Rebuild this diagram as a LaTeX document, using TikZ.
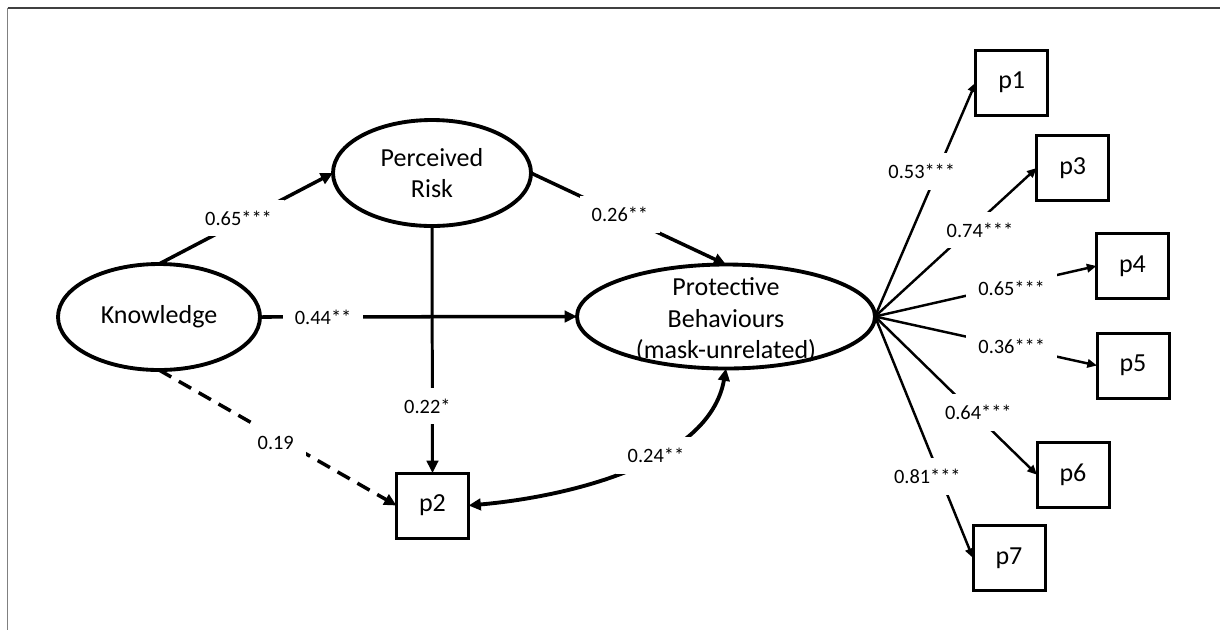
\documentclass[tikz,border=0pt]{standalone}
\usepackage{fontspec}
\setmainfont{Carlito}
\usetikzlibrary{arrows.meta,shapes.geometric}
\newlength\pxu \setlength\pxu{0.02cm}
\newcommand\nodefont{\fontsize{14.8}{18.1}\selectfont}
\newcommand\labfont{\fontsize{11.6}{14}\selectfont}
\begin{document}
\begin{tikzpicture}[x=0.02cm,y=-0.02cm,
  latent/.style={draw, ellipse, line width=2.2pt, inner sep=0pt, outer sep=0pt, font=\nodefont, align=center},
  obs/.style={draw, rectangle, line width=1.7pt, minimum width=72\pxu, minimum height=65\pxu, inner sep=0pt, outer sep=0pt, font=\nodefont},
  lbl/.style={fill=white, font=\labfont, inner xsep=12\pxu, inner ysep=11\pxu, text=black},
  mainarr/.style={line width=2pt, -{Triangle[length=7pt,width=6.5pt]}},
  fanarr/.style={line width=1.4pt, -{Triangle[length=5.5pt,width=4.8pt]}},
  dasharr/.style={line width=2pt, dash pattern=on 8pt off 5pt, -{Triangle[length=7pt,width=6.5pt]}},
  corr/.style={line width=2.2pt, {Triangle[length=7pt,width=6.5pt]}-{Triangle[length=7pt,width=6.5pt]}}
]
\useasboundingbox (0,0) rectangle (1220,630);
% frame
\draw[black!75, line width=0.6pt] (7.5,8) -- (1220,8);
\draw[black!50, line width=0.9pt] (7.5,8) -- (7.5,630);

% latent variables
\node[latent, minimum width=202\pxu, minimum height=106\pxu] (K) at (159,317) {Knowledge};
\node[latent, minimum width=198\pxu, minimum height=106\pxu] (PR) at (432,173) {Perceived\\Risk};
\node[latent, minimum width=298\pxu, minimum height=104\pxu] (PB) at (726,316.5) {};
\node[font=\nodefont, align=center, inner sep=0pt] (PBt) at (726,320) {Protective\\Behaviours\\(mask-unrelated)};

% observed
\node[obs] (p2) at (432.5,505.5) {p2};
\node[obs] (p1) at (1011.7,82.5) {p1};
\node[obs] (p3) at (1072.7,168) {p3};
\node[obs] (p4) at (1132.5,266) {p4};
\node[obs] (p5) at (1133,365.5) {p5};
\node[obs] (p6) at (1073,474.7) {p6};
\node[obs] (p7) at (1009,558) {p7};

% structural paths
\draw[mainarr] (K.north) -- node[lbl, pos=0.457, yshift=4.4\pxu] {0.65***} (PR.west);
\draw[mainarr] (PR.east) -- node[lbl, pos=0.456] {0.26**} (PB.north);
\draw[mainarr] (K.east) -- node[lbl, pos=0.199] {0.44**} (PB.west);
\draw[line width=1.7pt, -{Triangle[length=7pt,width=6.5pt]}] (PR.south) -- node[lbl, pos=0.729, xshift=-5\pxu] {0.22*} (p2.north);
\draw[dasharr] (K.south) -- node[lbl, pos=0.4916, yshift=-6.4\pxu] {0.19} (p2.west);
\draw[corr] (p2.east) to[out=5, in=-100, looseness=0.85] node[lbl, pos=0.6] {0.24**} (PB.south);

% measurement paths
\foreach \b/\t/\dx/\dy/\lab in {p1/0.619/-15.6/0/{0.53***}, p3/0.5825/10.8/0/{0.74***}, p4/0.6166/0/-2.9/{0.65***}, p5/0.6158/0/0/{0.36***}, p6/0.6056/5.2/0/{0.64***}, p7/0.6634/-12.7/0/{0.81***}}
  \draw[fanarr] (PB.east) -- node[lbl, pos=\t, xshift=\dx\pxu, yshift=\dy\pxu] {\lab} (\b.west);
\end{tikzpicture}
\end{document}
